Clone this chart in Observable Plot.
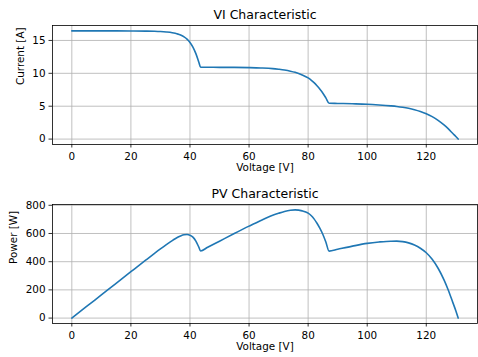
<!DOCTYPE html>
<html>
<head>
<meta charset="utf-8">
<script src="https://cdn.jsdelivr.net/npm/d3@7"></script>
<script src="https://cdn.jsdelivr.net/npm/@observablehq/plot@0.6"></script>
<style>
  html, body { margin: 0; padding: 0; background: #fff; }
  svg { display: block; }
</style>
</head>
<body>
<div id="chart"></div>
<script>
// Values
const voltage = [0, 5, 10, 15, 20, 25, 28, 30, 32, 34, 35, 36, 37, 38, 39, 40, 41, 42, 43, 43.6,
  46, 50, 55, 60, 64, 68, 70, 72, 74, 75.6, 78, 80, 81, 82, 83, 84, 85, 86, 87.1,
  90, 95, 100, 104, 108, 110, 112, 114, 116, 118, 120, 122, 124, 126, 127.4, 129, 130, 130.8];
const current = [16.45, 16.45, 16.45, 16.45, 16.44, 16.42, 16.39, 16.35, 16.28, 16.17, 16.08, 15.96, 15.8, 15.55, 15.2, 14.7, 14.0, 13.0, 11.7, 10.92,
  10.92, 10.91, 10.9, 10.87, 10.82, 10.72, 10.62, 10.5, 10.33, 10.15, 9.75, 9.3, 8.98, 8.58, 8.1, 7.57, 6.97, 6.27, 5.45,
  5.42, 5.37, 5.3, 5.19, 5.05, 4.96, 4.84, 4.68, 4.47, 4.2, 3.86, 3.42, 2.85, 2.15, 1.58, 0.85, 0.4, 0];
const power = [0, 82.3, 164.5, 246.8, 328.8, 410.5, 458.9, 490.5, 521.0, 549.8, 562.8, 574.6, 584.6, 590.9, 592.8, 588, 574, 546, 503.1, 476.1,
  502.3, 545.5, 599.5, 652.2, 692.5, 729, 743.4, 756, 764.4, 767.3, 760.5, 744, 727.4, 703.6, 672.3, 635.9, 592.5, 539.2, 474.7,
  487.8, 510.2, 530, 539.8, 545.4, 545.6, 542.1, 533.5, 518.5, 495.6, 463.2, 417.2, 353.4, 270.9, 201.3, 109.7, 52, 0];
const xTicks = [0, 20, 40, 60, 80, 100, 120];
const iTicks = [0, 5, 10, 15];
const pTicks = [0, 200, 400, 600, 800];

const viData = voltage.map((v, k) => ({v, y: current[k]}));
const pvData = voltage.map((v, k) => ({v, y: power[k]}));

const font = "DejaVu Sans, sans-serif";
const gridStyle = {stroke: "#b0b0b0", strokeOpacity: 1, strokeWidth: 0.8};

function panel({data, yDomain, yTicks, title, ylabel, height, marginTop, ylabelDx}) {
  return Plot.plot({
    width: 478,
    height,
    marginTop,
    marginBottom: 34,
    marginLeft: 52,
    marginRight: 1,
    style: {fontFamily: font, fontSize: "10.4px", color: "#000", background: "#fff"},
    x: {domain: [-6.54, 137.34]},
    y: {domain: yDomain},
    marks: [
      Plot.gridX(xTicks, gridStyle),
      Plot.gridY(yTicks, gridStyle),
      Plot.line(data, {x: "v", y: "y", stroke: "#1f77b4", strokeWidth: 1.6, curve: "monotone-x"}),
      Plot.frame({stroke: "#000", strokeWidth: 0.8}),
      Plot.axisX(xTicks, {label: null, tickSize: 3.5, tickPadding: 5, fontSize: 10.4, stroke: "#000", strokeWidth: 0.8, fill: "#000"}),
      Plot.axisY(yTicks, {label: null, tickSize: 3.5, tickPadding: 3.5, fontSize: 10.4, stroke: "#000", strokeWidth: 0.8, fill: "#000"}),
      Plot.text([title], {frameAnchor: "top", lineAnchor: "bottom", dy: -6.5, fontSize: 12.5, fill: "#000"}),
      Plot.text(["Voltage [V]"], {frameAnchor: "bottom", lineAnchor: "top", dy: 19, fontSize: 10.4, fill: "#000"}),
      Plot.text([ylabel], {frameAnchor: "left", rotate: -90, dx: ylabelDx, fontSize: 10.4, fill: "#000"})
    ]
  });
}

const chart = document.getElementById("chart");
chart.append(panel({
  data: viData, yDomain: [-0.8225, 17.2725], yTicks: iTicks,
  title: "VI Characteristic", ylabel: "Current [A]", height: 178, marginTop: 25, ylabelDx: -32
}));
chart.append(panel({
  data: pvData, yDomain: [-38.4, 805.6], yTicks: pTicks,
  title: "PV Characteristic", ylabel: "Power [W]", height: 179, marginTop: 26, ylabelDx: -39
}));
</script>
</body>
</html>
